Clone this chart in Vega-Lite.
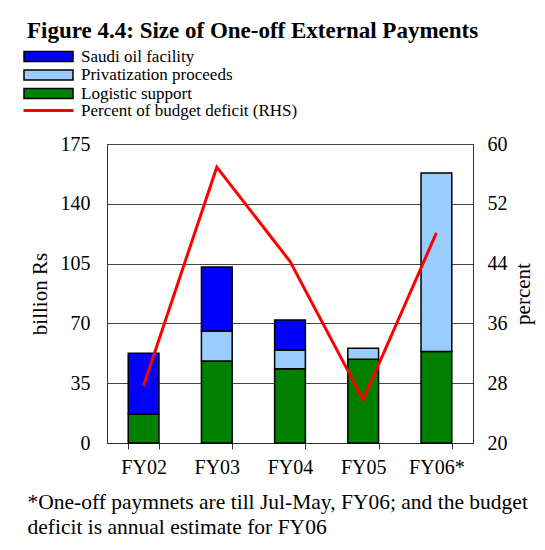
{
  "$schema": "https://vega.github.io/schema/vega-lite/v6.json",
  "width": 366,
  "height": 299,
  "autosize": {"type": "none"},
  "padding": {"left": 107, "top": 144, "right": 72, "bottom": 107},
  "background": "white",
  "title": {
    "text": "Figure 4.4: Size of One-off External Payments",
    "anchor": "start",
    "frame": "group",
    "dx": -80,
    "offset": 5,
    "font": "Liberation Serif",
    "fontSize": 23,
    "fontWeight": "bold",
    "color": "#000"
  },
  "datasets": {
    "bars": [
      {"year": "FY02", "series": "Logistic support", "value": 17},
      {"year": "FY02", "series": "Saudi oil facility", "value": 35.5},
      {"year": "FY03", "series": "Logistic support", "value": 48},
      {"year": "FY03", "series": "Privatization proceeds", "value": 17.5},
      {"year": "FY03", "series": "Saudi oil facility", "value": 37.5},
      {"year": "FY04", "series": "Logistic support", "value": 43.5},
      {"year": "FY04", "series": "Privatization proceeds", "value": 11},
      {"year": "FY04", "series": "Saudi oil facility", "value": 17.5},
      {"year": "FY05", "series": "Logistic support", "value": 49},
      {"year": "FY05", "series": "Privatization proceeds", "value": 6.5},
      {"year": "FY06*", "series": "Logistic support", "value": 53.5},
      {"year": "FY06*", "series": "Privatization proceeds", "value": 104.5}
    ],
    "line": [
      {"year": "FY02", "pct": 27.7},
      {"year": "FY03", "pct": 56.9},
      {"year": "FY04", "pct": 44.3},
      {"year": "FY05", "pct": 25.8},
      {"year": "FY06*", "pct": 48.1}
    ]
  },
  "encoding": {
    "x": {
      "field": "year",
      "type": "nominal",
      "sort": ["FY02", "FY03", "FY04", "FY05", "FY06*"],
      "scale": {"paddingInner": 0.58, "paddingOuter": 0.29},
      "axis": {
        "labelAngle": 0,
        "labelFontSize": 20,
        "tickBand": "extent",
        "ticks": true,
        "tickSize": 6,
        "labelPadding": 8,
        "domainColor": "#333",
        "title": ["*One-off paymnets are till Jul-May, FY06; and the budget", "deficit is annual estimate for FY06"],
        "titleFontSize": 21.5,
        "titleAnchor": "start",
        "titleAlign": "left",
        "titleBaseline": "top",
        "titleX": -80,
        "titleY": 48,
        "titleLineHeight": 25
      }
    }
  },
  "layer": [
    {
      "data": {"name": "bars"},
      "mark": {"type": "bar", "stroke": "#000", "strokeWidth": 1.5},
      "encoding": {
        "y": {
          "field": "value",
          "type": "quantitative",
          "stack": "zero",
          "scale": {"domain": [0, 175], "nice": false},
          "axis": {
            "orient": "left",
            "values": [0, 35, 70, 105, 140, 175],
            "title": "billion Rs",
            "titleFontSize": 21,
            "labelFontSize": 20,
            "ticks": false,
            "labelPadding": 17,
            "titlePadding": 10,
            "grid": true,
            "gridColor": "#444",
            "gridOpacity": 1,
            "domainColor": "#333"
          }
        },
        "fill": {
          "field": "series",
          "type": "nominal",
          "scale": {
            "domain": ["Saudi oil facility", "Privatization proceeds", "Logistic support"],
            "range": ["#0000FF", "#99CCFF", "#008000"]
          },
          "legend": {
            "orient": "none",
            "legendX": -67,
            "legendY": -96,
            "title": null,
            "symbolType": "M-4.9,-1H4.9V1H-4.9Z",
            "symbolSize": 100,
            "symbolStrokeColor": "#000",
            "symbolStrokeWidth": 1.5,
            "symbolOpacity": 1,
            "labelOffset": 24,
            "labelFont": "Liberation Serif",
            "labelFontSize": 17,
            "labelColor": "#000",
            "rowPadding": 0.5,
            "labelLimit": 400
          }
        },
        "order": {"field": "series", "sort": "ascending"}
      }
    },
    {
      "data": {"name": "line"},
      "mark": {"type": "line", "strokeWidth": 3},
      "encoding": {
        "y": {
          "field": "pct",
          "type": "quantitative",
          "scale": {"domain": [20, 60], "nice": false, "zero": false},
          "axis": {
            "orient": "right",
            "values": [20, 28, 36, 44, 52, 60],
            "title": "percent",
            "titleAngle": 270,
            "titleFontSize": 21,
            "labelFontSize": 20,
            "ticks": false,
            "grid": false,
            "labelPadding": 14,
            "titlePadding": 26,
            "domainColor": "#333"
          }
        },
        "stroke": {
          "datum": "Percent of budget deficit (RHS)",
          "type": "nominal",
          "scale": {"range": ["#FF0000"]},
          "legend": {
            "orient": "none",
            "legendX": -67,
            "legendY": -42,
            "title": null,
            "symbolType": "M-5,0H5",
            "symbolSize": 100,
            "symbolStrokeWidth": 3,
            "labelOffset": 24,
            "labelFont": "Liberation Serif",
            "labelFontSize": 17,
            "labelColor": "#000",
            "labelLimit": 400
          }
        }
      }
    }
  ],
  "resolve": {"scale": {"y": "independent", "fill": "independent", "stroke": "independent"}},
  "config": {
    "font": "Liberation Serif",
    "view": {"stroke": "#333", "strokeWidth": 1},
    "axis": {
      "labelFont": "Liberation Serif",
      "labelFontSize": 20,
      "labelColor": "#000",
      "titleFont": "Liberation Serif",
      "titleFontSize": 21,
      "titleFontWeight": "normal",
      "titleColor": "#000",
      "tickColor": "#333"
    }
  }
}
